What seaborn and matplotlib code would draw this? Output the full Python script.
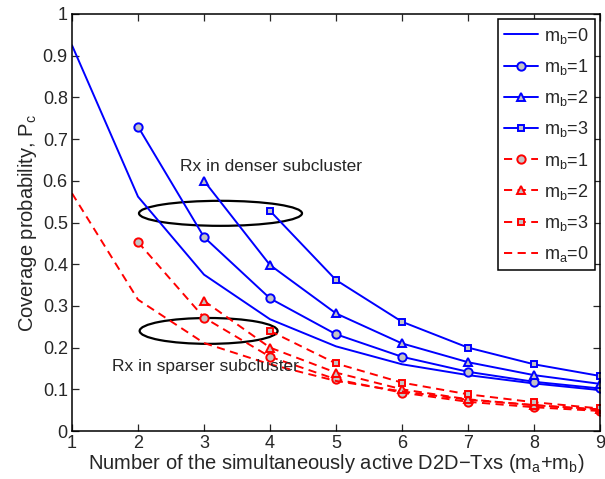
import numpy as np
import pandas as pd
import matplotlib
matplotlib.use("Agg")
import matplotlib.pyplot as plt
from matplotlib.patches import Ellipse
import seaborn as sns

# Data
x_b0 = [1, 2, 3, 4, 5, 6, 7, 8, 9]
blue_b0 = [0.925, 0.562, 0.375, 0.268, 0.203, 0.160, 0.134, 0.114, 0.098]
x_b1 = [2, 3, 4, 5, 6, 7, 8, 9]
blue_b1 = [0.730, 0.465, 0.318, 0.232, 0.178, 0.142, 0.118, 0.102]
x_b2 = [3, 4, 5, 6, 7, 8, 9]
blue_b2 = [0.600, 0.398, 0.282, 0.210, 0.165, 0.134, 0.113]
x_b3 = [4, 5, 6, 7, 8, 9]
blue_b3 = [0.528, 0.362, 0.262, 0.200, 0.160, 0.132]

red_b1 = [0.453, 0.272, 0.178, 0.124, 0.092, 0.070, 0.057, 0.048]
red_b2 = [0.312, 0.200, 0.140, 0.100, 0.076, 0.062, 0.052]
red_b3 = [0.240, 0.162, 0.116, 0.088, 0.069, 0.054]
red_a0 = [0.570, 0.315, 0.211, 0.160, 0.120, 0.095, 0.075, 0.062, 0.050]

labels = ["$m_b$=0", "$m_b$=1", "$m_b$=2", "$m_b$=3",
          "$m_b$=1", "$m_b$=2", "$m_b$=3", "$m_a$=0"]
xticks = [1, 2, 3, 4, 5, 6, 7, 8, 9]
yticks = [0, 0.1, 0.2, 0.3, 0.4, 0.5, 0.6, 0.7, 0.8, 0.9, 1]
yticklabels = ["0", "0.1", "0.2", "0.3", "0.4", "0.5", "0.6", "0.7", "0.8", "0.9", "1"]

sns.set_style("ticks")
plt.rcParams['font.family'] = ['Liberation Sans', 'DejaVu Sans']
plt.rcParams['mathtext.fontset'] = 'custom'
plt.rcParams['mathtext.rm'] = 'Liberation Sans'
plt.rcParams['mathtext.it'] = 'Liberation Sans'
plt.rcParams['mathtext.default'] = 'regular'

fig = plt.figure(figsize=(6.05, 4.79), dpi=100)
ax = fig.add_axes([72/605, 48/479, 528/605, 417/479])

blue = "#0000ff"
red = "#ff0000"
face = "#c4c4c4"
lw = 1.4
series = [
    (x_b0, blue_b0, blue, '-', None),
    (x_b1, blue_b1, blue, '-', 'o'),
    (x_b2, blue_b2, blue, '-', '^'),
    (x_b3, blue_b3, blue, '-', 's'),
    (x_b1, red_b1, red, '--', 'o'),
    (x_b2, red_b2, red, '--', '^'),
    (x_b3, red_b3, red, '--', 's'),
    (x_b0, red_a0, red, '--', None),
]
msize = {'o': 6, '^': 6, 's': 4.8}
for (xs, ys, c, ls, mk), lab in zip(series, labels):
    kw = dict(marker=mk, markersize=msize[mk], markerfacecolor=face,
              markeredgecolor=c, markeredgewidth=1.4) if mk else {}
    sns.lineplot(x=xs, y=ys, ax=ax, color=c, linewidth=lw, label=lab, **kw)
    ln = ax.lines[-1]
    ln.set_linestyle(ls)
    if ls == '--':
        ln.set_dashes((4.2, 2.8))

ax.add_patch(Ellipse((3.25, 0.522), 2.47, 0.06, fill=False, edgecolor='black', linewidth=1.6))
ax.add_patch(Ellipse((3.07, 0.240), 2.09, 0.062, fill=False, edgecolor='black', linewidth=1.6))
ax.text(2.64, 0.635, "Rx in denser subcluster", fontsize=12.5, va='center', ha='left')
ax.text(1.61, 0.155, "Rx in sparser subcluster", fontsize=12.5, va='center', ha='left')

ax.set_xlim(1, 9)
ax.set_ylim(0, 1)
ax.set_xticks(xticks)
ax.set_yticks(yticks)
ax.set_yticklabels(yticklabels)
ax.tick_params(direction='in', top=True, right=True, labelsize=13, length=5, width=0.9, pad=3)
for s in ax.spines.values():
    s.set_visible(True)
    s.set_linewidth(1.1)
    s.set_color('black')
ax.set_xlabel("Number of the simultaneously active D2D\u2212Txs (m$_a$+m$_b$)", fontsize=14.5, labelpad=0)
ax.set_ylabel("Coverage probability, P$_c$", fontsize=14.5, labelpad=3)

leg = ax.legend(loc='upper right', fontsize=13, frameon=True, fancybox=False,
                edgecolor='black', framealpha=1, handlelength=1.9, labelspacing=0.62,
                borderaxespad=0.3, handletextpad=0.3, borderpad=0.35)
leg.get_frame().set_linewidth(1.1)

fig.savefig("out.png", dpi=100)
